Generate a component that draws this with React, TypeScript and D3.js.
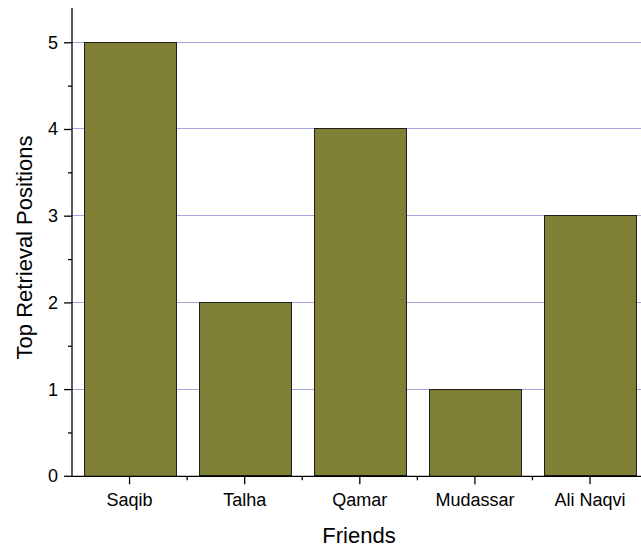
import React from "react";
import * as d3 from "d3";

const categories = ["Saqib", "Talha", "Qamar", "Mudassar", "Ali Naqvi"];
const values = [5, 2, 4, 1, 3];
const yTicks = [0, 1, 2, 3, 4, 5];
const yMinorTicks = [0.5, 1.5, 2.5, 3.5, 4.5];
const xTitle = "Friends";
const yTitle = "Top Retrieval Positions";

const W = 641;
const H = 548;
const FONT = "'Liberation Sans', Arial, Helvetica, sans-serif";

export default function App() {
  const x = d3
    .scaleBand<string>()
    .domain(categories)
    .range([72, 647.6])
    .paddingInner(0.2)
    .paddingOuter(0.1);
  const y = d3.scaleLinear().domain([0, 5.4]).range([476.3, 8.1]);
  const step = x.step();
  const x0 = 72;
  const boundaries = d3.range(1, categories.length).map((k) => x0 + k * step);
  const crisp = (v: number) => Math.round(v) + 0.5;

  return (
    <svg
      width={W}
      height={H}
      style={{ position: "absolute", left: 0, top: 0, background: "#fff" }}
      fontFamily={FONT}
    >
      {yTicks
        .filter((t) => t > 0)
        .map((t) => (
          <line
            key={"g" + t}
            x1={x0}
            x2={W}
            y1={crisp(y(t)) - 1}
            y2={crisp(y(t)) - 1}
            stroke="#a3a8de"
            strokeWidth={1}
          />
        ))}
      {categories.map((c, i) => (
        <rect
          key={c}
          x={Math.round(x(c) as number) + 0.5}
          y={crisp(y(values[i])) - 1}
          width={Math.round(x.bandwidth())}
          height={Math.round(y(0) - y(values[i]))}
          fill="#7f7f35"
          stroke="#1e1e1e"
          strokeWidth={1}
        />
      ))}
      {/* y axis */}
      <line x1={x0} x2={x0} y1={y.range()[1]} y2={y(0)} stroke="#000" strokeWidth={1.3} />
      {yTicks.map((t) => (
        <g key={"yt" + t}>
          <line x1={x0 - 8} x2={x0} y1={y(t)} y2={y(t)} stroke="#000" strokeWidth={1.3} />
          <text
            x={58}
            y={y(t)}
            textAnchor="end"
            dominantBaseline="central"
            fontSize={18}
            fill="#000"
          >
            {t}
          </text>
        </g>
      ))}
      {yMinorTicks.map((t) => (
        <line key={"ym" + t} x1={x0 - 4} x2={x0} y1={y(t)} y2={y(t)} stroke="#000" strokeWidth={1.3} />
      ))}
      {/* x axis */}
      <line x1={x0} x2={W} y1={y(0)} y2={y(0)} stroke="#000" strokeWidth={1.3} />
      {categories.map((c) => {
        const cx = (x(c) as number) + x.bandwidth() / 2;
        return (
          <g key={"xt" + c}>
            <line x1={cx} x2={cx} y1={y(0)} y2={y(0) + 8} stroke="#000" strokeWidth={1.3} />
            <text x={cx} y={505.5} textAnchor="middle" fontSize={18} fill="#000">
              {c}
            </text>
          </g>
        );
      })}
      {boundaries.map((b) => (
        <line key={"xb" + b} x1={b} x2={b} y1={y(0)} y2={y(0) + 4} stroke="#000" strokeWidth={1.3} />
      ))}
      <text x={359} y={543} textAnchor="middle" fontSize={22} fill="#000">
        {xTitle}
      </text>
      <text
        transform={`translate(31.5, 247.5) rotate(-90)`}
        textAnchor="middle"
        fontSize={22}
        fill="#000"
      >
        {yTitle}
      </text>
    </svg>
  );
}
